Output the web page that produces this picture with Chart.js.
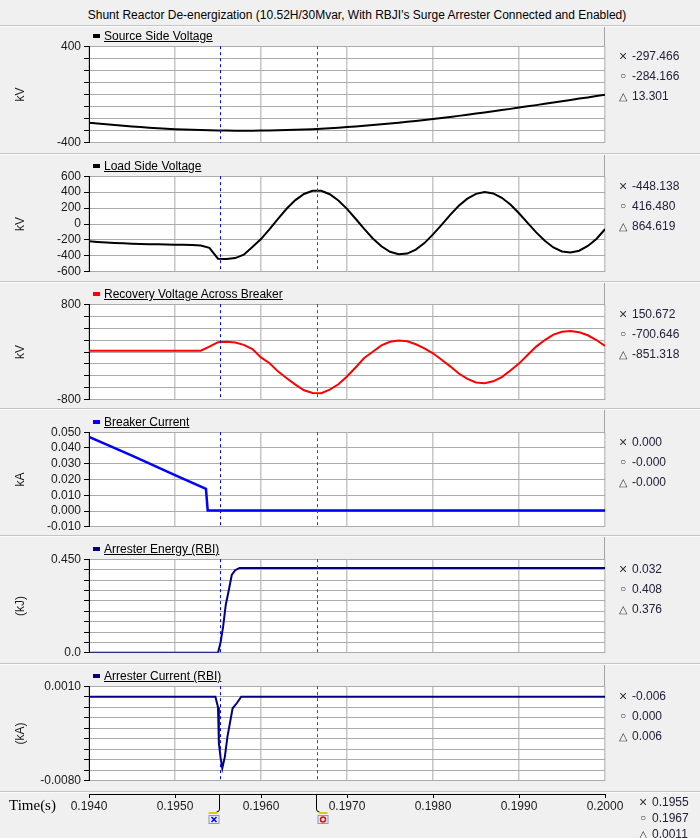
<!DOCTYPE html>
<html><head><meta charset="utf-8">
<script src="https://cdn.jsdelivr.net/npm/chart.js@4/dist/chart.umd.min.js"></script>
<style>
html,body{margin:0;padding:0;background:#f0f0f0;}
#wrap{position:relative;width:700px;height:838px;overflow:hidden;background:#f0f0f0;font-family:"Liberation Sans",Arial,sans-serif;}
canvas{position:absolute;left:0;}
.title{position:absolute;left:7px;width:700px;top:8px;text-align:center;font-size:12px;line-height:14px;color:#000;white-space:nowrap;}
.sep{position:absolute;left:0;width:700px;height:1px;background:#c4c4c4;border-bottom:1px solid #fbfbfb;}
.hdr{position:absolute;left:89px;width:515px;border-right:1px solid #a4a4a4;}
.lbl{position:absolute;left:104px;font-size:12px;line-height:14px;text-decoration:underline;color:#000;white-space:nowrap;}
.mk{position:absolute;left:93px;width:7px;height:4px;}
.sym{position:absolute;width:10px;text-align:center;color:#333;white-space:nowrap;}
.ro{position:absolute;font-size:12px;line-height:14px;color:#22223a;white-space:nowrap;}
.tlab{position:absolute;left:9px;top:796px;font-family:"Liberation Serif","Times New Roman",serif;font-size:15px;line-height:18px;color:#000;}
</style></head><body><div id="wrap"></div>
<script>
// ---------------- data ----------------
const chartTitle = "Shunt Reactor De-energization (10.52H/30Mvar, With RBJI's Surge Arrester Connected and Enabled)";
const time = [0.1940,0.1941,0.1942,0.1943,0.1944,0.1945,0.1946,0.1947,0.1948,0.1949,
  0.1950,0.1951,0.1952,0.1953,0.1954,0.1955,0.1956,0.1957,0.1958,0.1959,
  0.1960,0.1961,0.1962,0.1963,0.1964,0.1965,0.1966,0.1967,0.1968,0.1969,
  0.1970,0.1971,0.1972,0.1973,0.1974,0.1975,0.1976,0.1977,0.1978,0.1979,
  0.1980,0.1981,0.1982,0.1983,0.1984,0.1985,0.1986,0.1987,0.1988,0.1989,
  0.1990,0.1991,0.1992,0.1993,0.1994,0.1995,0.1996,0.1997,0.1998,0.1999,0.2000];
const sourceVoltage = [-234,-240,-247,-253,-259,-265,-270,-275,-279,-283,
  -287,-290,-292,-295,-297,-298,-299,-300,-300,-300,
  -299,-298,-297,-295,-292,-290,-287,-283,-279,-275,
  -270,-265,-259,-253,-247,-241,-234,-226,-219,-211,
  -203,-194,-186,-177,-168,-158,-149,-139,-129,-119,
  -108,-98,-88,-77,-66,-56,-45,-34,-24,-13,-2];
const loadVoltage = [-217,-225,-232,-238,-243,-247,-250,-253,-255,-257,
  -259,-262,-265,-270,-300,-435,-440,-428,-385,-290,
  -189,-64,68,194,300,377,417,416,374,296,
  190,66,-62,-182,-280,-349,-380,-371,-322,-240,
  -131,-10,114,228,318,378,400,384,329,244,
  135,15,-105,-211,-294,-345,-359,-335,-276,-188,-65];
const recoveryVoltage = [20,20,20,20,20,20,20,20,20,20,
  20,20,20,22,90,165,172,160,120,50,
  -90,-189,-328,-440,-545,-640,-685,-690,-630,-540,
  -411,-260,-100,4,110,170,192,180,130,60,
  -22,-130,-240,-360,-450,-510,-522,-490,-420,-310,
  -194,-50,90,200,290,340,352,330,280,200,100];
const breakerTime = [0.1940,0.1945,0.1950,0.19536,0.19538,0.1960,0.2000];
const breakerCurrent = [0.0470,0.0352,0.0228,0.0140,0.0004,0.0003,0.0003];
const energyTime = [0.1940,0.1955,0.19553,0.19556,0.19559,0.19563,0.19566,0.1957,0.19575,0.2000];
const arresterEnergy = [0,0,0.05,0.127,0.23,0.31,0.374,0.397,0.408,0.408];
const arresterTime = [0.1940,0.19547,0.1955,0.19551,0.19553,0.19555,0.19558,0.19561,0.19567,0.19572,0.19577,0.2000];
const arresterCurrent = [0,0,-0.001,-0.0044,-0.0058,-0.0068,-0.0057,-0.0038,-0.0011,-0.0006,0,0];

const cursorTimes = [0.19552, 0.19665];
const xTickValues = [0.194,0.195,0.196,0.197,0.198,0.199,0.200];
const xTickLabels = ['0.1940','0.1950','0.1960','0.1970','0.1980','0.1990','0.2000'];

const srcTickValues = [400,-400];          const srcTickLabels = ['400','-400'];
const loadTickValues = [600,400,200,0,-200,-400,-600];
const loadTickLabels = ['600','400','200','0','-200','-400','-600'];
const recTickValues = [800,-800];          const recTickLabels = ['800','-800'];
const brkTickValues = [0.05,0.04,0.03,0.02,0.01,0,-0.01];
const brkTickLabels = ['0.050','0.040','0.030','0.020','0.010','0.000','-0.010'];
const enTickValues = [0.45,0];             const enTickLabels = ['0.450','0.0'];
const arTickValues = [0.001,-0.008];       const arTickLabels = ['0.0010','-0.0080'];

const srcReadout = ['-297.466','-284.166','13.301'];
const loadReadout = ['-448.138','416.480','864.619'];
const recReadout = ['150.672','-700.646','-851.318'];
const brkReadout = ['0.000','-0.000','-0.000'];
const enReadout = ['0.032','0.408','0.376'];
const arReadout = ['-0.006','0.000','0.006'];
const timeReadout = ['0.1955','0.1967','0.0011'];
const readoutSymbols = ['\u00D7','\u25CB','\u25B3'];

// ---------------- layout / style ----------------
const FONT = '"Liberation Sans", Arial, sans-serif';
Chart.defaults.font.family = FONT;
Chart.defaults.font.size = 12;
Chart.defaults.color = '#1a1a1a';
const PLOT_L = 89, PLOT_R = 605;
const cursorColors = ['#0000ff', '#ff0000'];
const symSizes = ['14px', '10px', '11px'];

const panels = [
  {name:'Source Side Voltage', t:time, v:sourceVoltage, color:'#000000', w:2, unit:'kV', min:-400, max:400, step:100, tv:srcTickValues, tl:srcTickLabels, ro:srcReadout, top:46, bottom:143},
  {name:'Load Side Voltage', t:time, v:loadVoltage, color:'#000000', w:2, unit:'kV', min:-600, max:600, step:200, tv:loadTickValues, tl:loadTickLabels, ro:loadReadout, top:176, bottom:272},
  {name:'Recovery Voltage Across Breaker', t:time, v:recoveryVoltage, color:'#ff0000', w:2, unit:'kV', min:-800, max:800, step:200, tv:recTickValues, tl:recTickLabels, ro:recReadout, top:304, bottom:400},
  {name:'Breaker Current', t:breakerTime, v:breakerCurrent, color:'#0000ff', w:2.5, unit:'kA', min:-0.01, max:0.05, step:0.01, tv:brkTickValues, tl:brkTickLabels, ro:brkReadout, top:432, bottom:527},
  {name:'Arrester Energy (RBI)', t:energyTime, v:arresterEnergy, color:'#000080', w:2, unit:'(kJ)', min:0, max:0.45, step:0.05, tv:enTickValues, tl:enTickLabels, ro:enReadout, top:559, bottom:653},
  {name:'Arrester Current (RBI)', t:arresterTime, v:arresterCurrent, color:'#000080', w:2, unit:'(kA)', min:-0.008, max:0.001, step:0.001, tv:arTickValues, tl:arTickLabels, ro:arReadout, top:686, bottom:781}
];
const sepTops = [25,153,281,408,535,663,791];

const wrap = document.getElementById('wrap');
function addDiv(cls, css, text){
  const d = document.createElement('div'); d.className = cls;
  Object.assign(d.style, css); if (text !== undefined) d.textContent = text;
  wrap.appendChild(d); return d;
}

const whiteBg = {id:'whiteBg', beforeDraw(c){
  const a = c.chartArea, ctx = c.ctx; ctx.save(); ctx.fillStyle = '#ffffff';
  ctx.fillRect(a.left, a.top, a.right - a.left, a.bottom - a.top); ctx.restore(); }};
const cursorLines = {id:'cursorLines', afterDatasetsDraw(c){
  const a = c.chartArea, ctx = c.ctx, xs = c.scales.x; ctx.save(); ctx.lineWidth = 1; ctx.setLineDash([3,3]);
  cursorTimes.forEach((t,i) => { const px = Math.round(xs.getPixelForValue(t)) + 0.5;
    ctx.strokeStyle = cursorColors[i]; ctx.beginPath(); ctx.moveTo(px, a.top); ctx.lineTo(px, a.bottom); ctx.stroke(); });
  ctx.restore(); }};

panels.forEach(p => {
  const cv = document.createElement('canvas');
  const ctop = p.top - 10, ch = p.bottom - p.top + 20;
  cv.width = 700; cv.height = ch; cv.style.top = ctop + 'px'; cv.style.width = '700px'; cv.style.height = ch + 'px';
  wrap.appendChild(cv);
  new Chart(cv, {
    type: 'line',
    data: {datasets: [{data: p.t.map((t,i) => ({x:t, y:p.v[i]})), borderColor: p.color, borderWidth: p.w, pointRadius: 0, fill: false, tension: 0}]},
    options: {
      responsive: false, animation: false, devicePixelRatio: 1,
      layout: {padding: {left: 0, right: 700 - PLOT_R, top: 10, bottom: 10}},
      plugins: {legend: {display: false}, tooltip: {enabled: false}},
      scales: {
        x: {type: 'linear', min: xTickValues[0], max: xTickValues[xTickValues.length-1], afterFit: s => { s.height = 0; },
            border: {display: false}, grid: {color: '#c6c6c6', lineWidth: 1.5, drawTicks: false},
            ticks: {display: false, stepSize: 0.001}},
        y: {min: p.min, max: p.max, afterFit: s => { s.width = PLOT_L; },
            border: {display: true, color: '#000000', width: 1},
            grid: {color: '#ababab', lineWidth: 1, tickColor: '#000000', tickLength: 5},
            ticks: {stepSize: p.step, autoSkip: false, padding: 3,
              callback: v => { const i = p.tv.findIndex(q => Math.abs(q - v) < p.step * 1e-3); return i < 0 ? '' : p.tl[i]; }},
            title: {display: true, text: p.unit, padding: {top: 13, bottom: 0}, font: {size: 12}}}
      }
    },
    plugins: [whiteBg, cursorLines]
  });
});

// x axis chart
const markerPlugin = {id:'markers', afterDraw(c){
  const ctx = c.ctx, xs = c.scales.x, y0 = 14;
  cursorTimes.forEach((t,i) => {
    const px = Math.round(xs.getPixelForValue(t)) - 0.5;
    const dir = i === 0 ? -1 : 1;
    ctx.save();
    ctx.strokeStyle = '#000'; ctx.lineWidth = 1; ctx.beginPath();
    ctx.moveTo(px, y0 + 1); ctx.lineTo(px, y0 + 15);
    ctx.quadraticCurveTo(px, y0 + 18, px + dir * 3, y0 + 18); ctx.stroke();
    ctx.strokeStyle = '#e8c800'; ctx.lineWidth = 2; ctx.beginPath();
    ctx.moveTo(px + dir * 2, y0 + 19); ctx.lineTo(px + dir * 11, y0 + 19); ctx.stroke();
    const bx = dir < 0 ? px - 11 : px + 1;
    ctx.fillStyle = '#e6ecf8'; ctx.fillRect(bx, y0 + 21, 11, 9);
    ctx.strokeStyle = '#8899bb'; ctx.lineWidth = 1; ctx.strokeRect(bx + 0.5, y0 + 21.5, 10, 8);
    ctx.strokeStyle = cursorColors[i]; ctx.lineWidth = 1.5; ctx.beginPath();
    if (i === 0) { ctx.moveTo(bx + 3, y0 + 23); ctx.lineTo(bx + 8, y0 + 28); ctx.moveTo(bx + 8, y0 + 23); ctx.lineTo(bx + 3, y0 + 28); }
    else { ctx.arc(bx + 5.5, y0 + 25.5, 2.5, 0, Math.PI * 2); }
    ctx.stroke(); ctx.restore();
  });
}};
const axc = document.createElement('canvas');
axc.width = 700; axc.height = 58; axc.style.top = '780px'; axc.style.width = '700px'; axc.style.height = '58px';
wrap.appendChild(axc);
new Chart(axc, {
  type: 'line',
  data: {datasets: [{data: []}]},
  options: {
    responsive: false, animation: false, devicePixelRatio: 1,
    layout: {padding: {left: PLOT_L, right: 700 - PLOT_R, top: 13, bottom: 0}},
    plugins: {legend: {display: false}, tooltip: {enabled: false}},
    scales: {
      y: {display: false, min: 0, max: 1},
      x: {type: 'linear', position: 'bottom', min: xTickValues[0], max: xTickValues[xTickValues.length-1],
          afterFit: s => { s.height = 44; },
          border: {display: true, color: '#000000', width: 1},
          grid: {drawOnChartArea: false, drawTicks: true, tickLength: 4, tickColor: '#000000'},
          ticks: {stepSize: 0.001, autoSkip: false, maxRotation: 0, padding: 1,
            callback: v => { const i = xTickValues.findIndex(q => Math.abs(q - v) < 1e-7); return i < 0 ? '' : xTickLabels[i]; }}}
    }
  },
  plugins: [markerPlugin]
});

// ---------------- html decorations ----------------
addDiv('title', {}, chartTitle);
sepTops.forEach(y => addDiv('sep', {top: y + 'px'}));
panels.forEach((p, k) => {
  const ht = sepTops[k] + 2;
  addDiv('hdr', {top: ht + 'px', height: (p.top - ht) + 'px'});
  addDiv('mk', {top: (p.top - 12) + 'px', background: p.color});
  addDiv('lbl', {top: (p.top - 17) + 'px'}, p.name);
  p.ro.forEach((r, j) => {
    const cy = p.top + 10 + j * 20;
    addDiv('sym', {left: '618px', top: (cy - 8) + 'px', fontSize: symSizes[j], lineHeight: '16px'}, readoutSymbols[j]);
    addDiv('ro', {left: '632px', top: (cy - 7) + 'px'}, r);
  });
});
addDiv('tlab', {}, 'Time(s)');
timeReadout.forEach((r, j) => {
  const cy = 802 + j * 16;
  addDiv('sym', {left: '638px', top: (cy - 8) + 'px', fontSize: symSizes[j], lineHeight: '16px'}, readoutSymbols[j]);
  addDiv('ro', {left: '652px', top: (cy - 7) + 'px'}, r);
});
</script></body></html>
